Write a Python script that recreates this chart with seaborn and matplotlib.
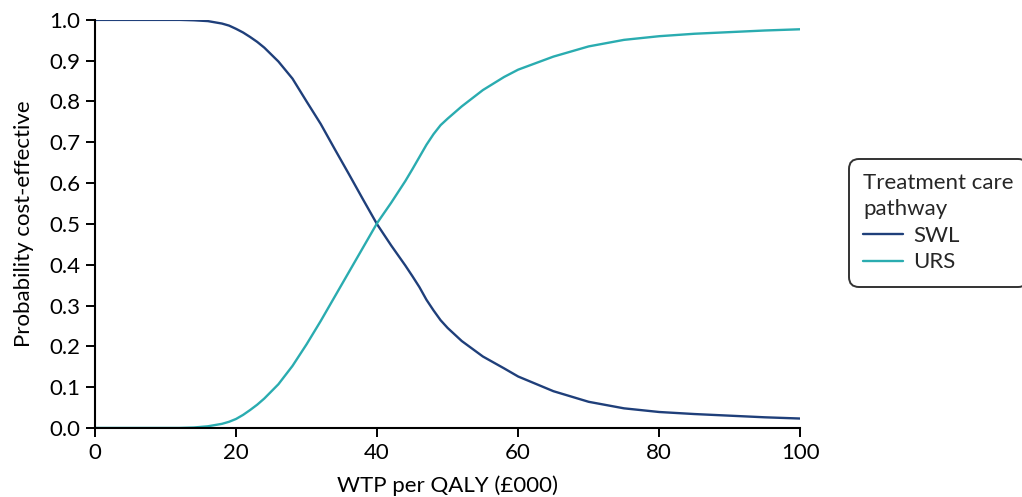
import matplotlib
matplotlib.use("Agg")
import matplotlib.pyplot as plt
import seaborn as sns
import pandas as pd

wtp = [0, 5, 10, 12, 14, 16, 18, 19, 20, 21, 22, 23, 24, 26, 28, 30, 32, 34, 36, 38, 40, 42, 44, 45, 46,
       47, 48, 49, 50, 52, 55, 58, 60, 65, 70, 75, 80, 85, 90, 95, 100]
swl = [1.0, 1.0, 1.0, 1.0, 0.999, 0.997, 0.991, 0.986, 0.978, 0.969, 0.958, 0.946, 0.932, 0.898, 0.856,
       0.80, 0.745, 0.683, 0.622, 0.560, 0.499, 0.447, 0.398, 0.372, 0.345, 0.314, 0.288, 0.264, 0.245,
       0.213, 0.175, 0.146, 0.126, 0.090, 0.064, 0.048, 0.039, 0.034, 0.030, 0.026, 0.023]
urs = [0.0, 0.0, 0.0, 0.0, 0.001, 0.004, 0.010, 0.015, 0.022, 0.032, 0.044, 0.057, 0.072, 0.107, 0.152,
       0.205, 0.262, 0.322, 0.382, 0.442, 0.502, 0.552, 0.605, 0.634, 0.664, 0.694, 0.720, 0.742, 0.758,
       0.788, 0.828, 0.860, 0.878, 0.910, 0.935, 0.951, 0.960, 0.966, 0.970, 0.974, 0.977]
series_names = ["SWL", "URS"]
colors = {"SWL": "#1f3f7a", "URS": "#2aacb0"}

df = pd.concat([
    pd.DataFrame({"wtp": wtp, "p": swl, "Pathway": "SWL"}),
    pd.DataFrame({"wtp": wtp, "p": urs, "Pathway": "URS"}),
])

sns.set_style("ticks")
plt.rcParams["font.family"] = ["Lato", "DejaVu Sans"]

fig = plt.figure(figsize=(10.22, 4.97), dpi=100)
ax = fig.add_axes([0.093, 0.139, 0.690, 0.821])
sns.lineplot(data=df, x="wtp", y="p", hue="Pathway", hue_order=series_names,
             palette=colors, linewidth=1.7, ax=ax, legend=True)

ax.set_xlim(0, 100)
ax.set_ylim(0, 1.0)
ax.set_xticks([0, 20, 40, 60, 80, 100])
ax.set_yticks([i / 10 for i in range(11)])
ax.set_yticklabels([f"{i/10:.1f}" for i in range(11)])
ax.tick_params(axis="both", labelsize=16, length=6.5, width=1.4, pad=4,
               color="black", labelcolor="black")
for s in ["top", "right"]:
    ax.spines[s].set_visible(False)
for s in ["left", "bottom"]:
    ax.spines[s].set_color("black")
    ax.spines[s].set_linewidth(1.5)
ax.set_xlabel("WTP per QALY (£000)", fontsize=16, color="black", labelpad=9)
ax.set_ylabel("Probability cost-effective", fontsize=16, color="black", labelpad=11)

handles, labels = ax.get_legend_handles_labels()
ax.get_legend().remove()
leg = fig.legend(handles, labels, title="Treatment care\npathway", loc="upper left",
                 bbox_to_anchor=(0.8307, 0.680), frameon=True, fontsize=16, title_fontsize=16,
                 handlelength=1.8, handletextpad=0.45, labelspacing=0.3, borderpad=0.65,
                 borderaxespad=0, fancybox=True, alignment="left")
leg.get_title().set_linespacing(1.35)
leg.get_frame().set_edgecolor("black")
leg.get_frame().set_linewidth(1.4)
leg.get_frame().set_boxstyle("round", pad=0, rounding_size=0.45)

fig.savefig("out.png", dpi=100)
